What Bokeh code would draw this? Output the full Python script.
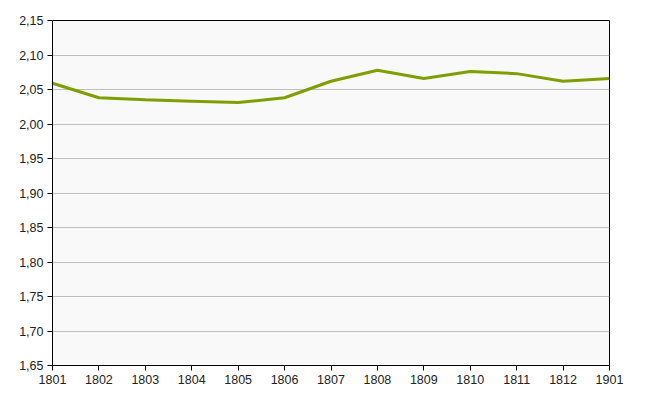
from bokeh.plotting import figure
from bokeh.models import FixedTicker, CustomJSTickFormatter, Range1d
from bokeh.embed import file_html
from bokeh.resources import INLINE

years = ["1801", "1802", "1803", "1804", "1805", "1806", "1807", "1808", "1809", "1810", "1811", "1812", "1901"]
values = [2.059, 2.038, 2.035, 2.033, 2.031, 2.038, 2.062, 2.078, 2.066, 2.076, 2.073, 2.062, 2.066]
y_ticks = [1.65, 1.70, 1.75, 1.80, 1.85, 1.90, 1.95, 2.00, 2.05, 2.10, 2.15]

xs = list(range(len(years)))

p = figure(frame_width=557, frame_height=345, output_backend="svg", toolbar_location=None,
           x_range=Range1d(0, len(years) - 1), y_range=Range1d(1.65, 2.15),
           min_border_left=52, min_border_top=20, min_border_right=30, min_border_bottom=10)
p.background_fill_color = "#f9f9f9"
p.border_fill_color = "white"
p.outline_line_color = "black"
p.outline_line_width = 1

p.line(xs, values, line_color="#7f9f00", line_width=3)

p.xgrid.grid_line_color = None
p.ygrid.grid_line_color = "#c0c0c0"
p.ygrid.ticker = FixedTicker(ticks=y_ticks)

p.yaxis.ticker = FixedTicker(ticks=y_ticks)
p.yaxis.formatter = CustomJSTickFormatter(code="return tick.toFixed(2).replace('.', ',');")
p.xaxis.ticker = FixedTicker(ticks=xs)
p.xaxis.major_label_overrides = {i: y for i, y in enumerate(years)}

for ax in (p.xaxis, p.yaxis):
    ax.axis_line_color = "black"
    ax.major_tick_line_color = "black"
    ax.major_tick_out = 5
    ax.major_tick_in = 0
    ax.minor_tick_line_color = None
    ax.major_label_text_font = "Liberation Sans"
    ax.major_label_text_font_size = "12.5px"
    ax.major_label_text_color = "#222222"
    ax.major_label_standoff = 4

open("out.html", "w").write(file_html(p, INLINE))
